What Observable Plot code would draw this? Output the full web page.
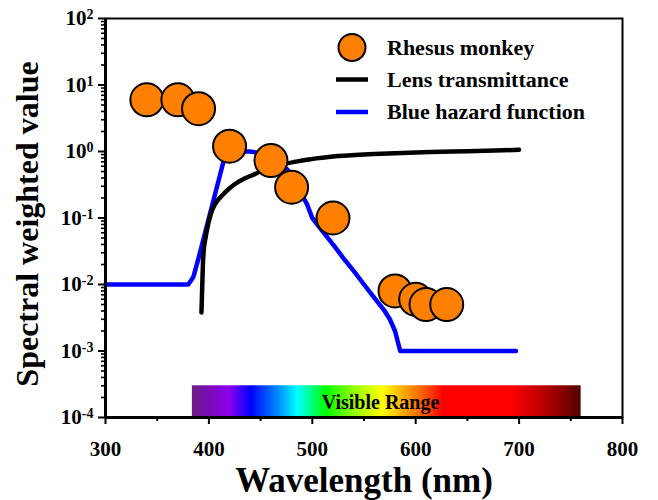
<!DOCTYPE html>
<html><head><meta charset="utf-8">
<script src="https://cdn.jsdelivr.net/npm/d3@7"></script>
<script src="https://cdn.jsdelivr.net/npm/@observablehq/plot@0.6"></script>
<style>
body{margin:0;background:#fff;}
#chart{position:relative;width:658px;height:500px;}
#legend{position:absolute;left:0;top:0;pointer-events:none;}
</style></head><body><div id="chart"></div>
<script>
// ---- data ----
const monkeyWavelength = [340, 370, 390, 420, 460, 480, 520, 580, 600, 610, 630];
const monkeyValue      = [6, 6, 4.4, 1.2, 0.73, 0.29, 0.1, 0.008, 0.006, 0.005, 0.005];

const lensWavelength = [392.8, 393.2, 393.6, 394.2, 395.2, 396.7, 400, 403, 408, 413, 420, 426, 434, 442, 450, 458, 470, 490, 520, 550, 580, 614, 650, 700];
const lensValue      = [0.0038, 0.006, 0.01, 0.02, 0.035, 0.05, 0.09, 0.13, 0.18, 0.22, 0.28, 0.33, 0.39, 0.44, 0.5, 0.55, 0.63, 0.73, 0.84, 0.9, 0.94, 0.98, 1.01, 1.06];

const hazardWavelength = [300, 380, 385, 390, 395, 400, 405, 410, 415, 420, 425, 430, 435, 440, 445, 450, 455, 460, 465, 470, 475, 480, 485, 490, 495, 500, 510, 520, 530, 540, 550, 560, 570, 575, 580, 585, 697];
const hazardValue      = [0.01, 0.01, 0.013, 0.025, 0.05, 0.1, 0.2, 0.4, 0.8, 0.9, 0.95, 0.98, 1.0, 1.0, 0.97, 0.94, 0.9, 0.8, 0.7, 0.62, 0.55, 0.45, 0.32, 0.22, 0.16, 0.1, 0.063, 0.04, 0.025, 0.016, 0.01, 0.0063, 0.004, 0.003, 0.002, 0.001, 0.001];

const xTicks = [300, 400, 500, 600, 700, 800];
const xMinorTicks = [350, 450, 550, 650, 750];
const yTicks = [1e-4, 1e-3, 1e-2, 1e-1, 1, 10, 100];
const yTickExponents = ["-4", "-3", "-2", "-1", "0", "1", "2"];
const yMinorTicks = [];
for (let k = -4; k < 2; k++) for (let m = 2; m <= 9; m++) yMinorTicks.push(m * Math.pow(10, k));

const visibleBand = [{start: 384, end: 760, low: 1e-4, high: 3e-4}];
const visibleLabel = [{x: 566, y: 1.7e-4, text: "Visible Range"}];
const spectrumWavelength = [384, 400, 420, 441, 456, 471, 486, 500, 513, 540, 568, 583, 595, 614, 627, 692, 721, 740, 760];
const spectrumColor = ["#6d1e86", "#7a0cb4", "#8c00f0", "#0000ff", "#0050ff", "#00a0ff", "#00ffff", "#00ff80", "#00ff00", "#90ff00", "#ffff00", "#ffc000", "#ff9000", "#ff4000", "#ff0000", "#ff0000", "#c00000", "#900000", "#520000"];

const legendLabels = ["Rhesus monkey", "Lens transmittance", "Blue hazard function"];
const xTitle = "Wavelength (nm)";
const yTitle = "Spectral weighted value";

// ---- tables ----
const monkey = monkeyWavelength.map((x, i) => ({x, y: monkeyValue[i]}));
const lens = lensWavelength.map((x, i) => ({x, y: lensValue[i]}));
const hazard = hazardWavelength.map((x, i) => ({x, y: hazardValue[i]}));

const FONT = "'Liberation Serif', 'Times New Roman', serif";
const ORANGE = "#ff8000";

const svg = Plot.plot({
  width: 658, height: 500,
  marginLeft: 105, marginRight: 36, marginTop: 18, marginBottom: 83,
  style: {fontFamily: FONT, fontWeight: "bold", fontSize: "21px", color: "black", background: "white", overflow: "visible"},
  x: {domain: [300, 800]},
  y: {type: "log", domain: [1e-4, 100]},
  marks: [
    Plot.rect(visibleBand, {x1: "start", x2: "end", y1: "low", y2: "high", fill: "url(#spectrum)"}),
    Plot.text(visibleLabel, {x: "x", y: "y", text: "text", fontSize: 20, fontWeight: "bold", fontFamily: FONT, fill: "black"}),
    Plot.line(hazard, {x: "x", y: "y", stroke: "#0000ff", strokeWidth: 4.5, strokeLinecap: "round", strokeLinejoin: "round"}),
    Plot.line(lens, {x: "x", y: "y", stroke: "black", strokeWidth: 4.5, curve: "monotone-x", strokeLinecap: "round"}),
    Plot.dot(monkey, {x: "x", y: "y", r: 16.5, fill: ORANGE, stroke: "black", strokeWidth: 2, fillOpacity: 1}),
    Plot.frame({stroke: "black", strokeWidth: 2}),
    Plot.ruleX([300], {stroke: "black", strokeWidth: 3}),
    Plot.ruleY([1e-4], {stroke: "black", strokeWidth: 3}),
    Plot.axisX({ticks: xTicks, tickSize: 7, tickPadding: 17, strokeWidth: 2, tickFormat: d => String(d), label: null, fontSize: 21, fontFamily: FONT, fontWeight: "bold"}),
    Plot.axisX({ticks: xMinorTicks, tickSize: 4, strokeWidth: 2, tickFormat: () => "", label: null}),
    Plot.axisY({ticks: yTicks, tickSize: 7, tickPadding: 5, strokeWidth: 2, tickFormat: d => "10|" + yTickExponents[yTicks.indexOf(d)], label: null, fontSize: 21, fontFamily: FONT, fontWeight: "bold"}),
    Plot.axisY({ticks: yMinorTicks, tickSize: 4, strokeWidth: 1.6, tickFormat: () => "", label: null}),
    Plot.text([xTitle], {frameAnchor: "bottom", dy: 63, text: d => d, fontSize: 35, fontWeight: "bold", fontFamily: FONT, lineAnchor: "middle", textAnchor: "middle"}),
    Plot.text([yTitle], {frameAnchor: "left", dx: -78, dy: 6, rotate: -90, text: d => d, fontSize: 32, fontWeight: "bold", fontFamily: FONT, lineAnchor: "middle", textAnchor: "middle"})
  ]
});

const NS = "http://www.w3.org/2000/svg";
// gradient for the visible-range band
const defs = document.createElementNS(NS, "defs");
const lg = document.createElementNS(NS, "linearGradient");
lg.setAttribute("id", "spectrum");
lg.setAttribute("x1", "0"); lg.setAttribute("x2", "1"); lg.setAttribute("y1", "0"); lg.setAttribute("y2", "0");
const band = visibleBand[0];
spectrumWavelength.forEach((w, i) => {
  const s = document.createElementNS(NS, "stop");
  s.setAttribute("offset", ((w - band.start) / (band.end - band.start)).toFixed(4));
  s.setAttribute("stop-color", spectrumColor[i]);
  lg.appendChild(s);
});
defs.appendChild(lg);
svg.insertBefore(defs, svg.firstChild);
svg.querySelectorAll('g[aria-label="rect"] rect').forEach(r => r.setAttribute("fill", "url(#spectrum)"));

// superscript exponents on y tick labels
svg.querySelectorAll('g[aria-label="y-axis tick label"] text').forEach(t => {
  const s = t.textContent;
  if (!s.includes("|")) return;
  const [b, e] = s.split("|");
  t.textContent = b;
  const ts = document.createElementNS(NS, "tspan");
  ts.setAttribute("dy", "-0.42em");
  ts.setAttribute("font-size", "14");
  ts.textContent = e;
  t.appendChild(ts);
});
svg.querySelectorAll('g[aria-label="x-axis tick label"] text, g[aria-label="y-axis tick label"] text').forEach(t => {
  t.setAttribute("font-family", FONT);
  t.style.fontFamily = FONT;
  t.style.fontWeight = "bold";
});

const chart = document.getElementById("chart");
chart.appendChild(svg);

// legend overlay
const lsvg = d3.select(chart).append("svg").attr("id", "legend").attr("width", 658).attr("height", 500)
  .style("font-family", FONT).style("font-weight", "bold");
const rows = [47.5, 79.5, 112];
lsvg.append("circle").attr("cx", 352).attr("cy", rows[0]).attr("r", 13.5).attr("fill", ORANGE).attr("stroke", "black").attr("stroke-width", 2);
lsvg.append("line").attr("x1", 336).attr("x2", 368).attr("y1", rows[1]).attr("y2", rows[1]).attr("stroke", "black").attr("stroke-width", 4.5);
lsvg.append("line").attr("x1", 336).attr("x2", 368).attr("y1", rows[2]).attr("y2", rows[2]).attr("stroke", "#0000ff").attr("stroke-width", 4.5);
legendLabels.forEach((lab, i) => {
  lsvg.append("text").attr("x", 387).attr("y", rows[i]).attr("dy", "0.34em").attr("font-size", 22).attr("fill", "black").text(lab);
});
</script></body></html>
